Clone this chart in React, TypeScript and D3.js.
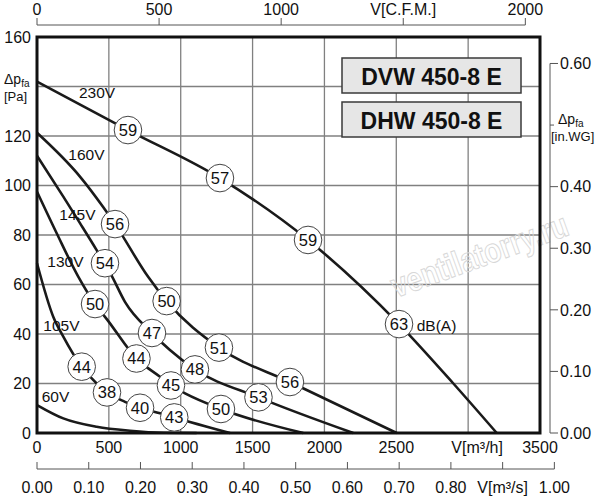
import React from 'react';
import * as d3 from 'd3';

// ---- axis ticks & labels ----
const flowTicks = [0, 500, 1000, 1500, 2000, 2500, 3000, 3500];
const flowTickLabels = ['0', '500', '1000', '1500', '2000', '2500', 'V[m³/h]', '3500'];
const cfmTicks = [0, 500, 1000, 1500, 2000];
const cfmTickLabels = ['0', '500', '1000', 'V[C.F.M.]', '2000'];
const m3sTicks = [0, 0.1, 0.2, 0.3, 0.4, 0.5, 0.6, 0.7, 0.8, 0.9, 1.0];
const m3sTickLabels = ['0.00', '0.10', '0.20', '0.30', '0.40', '0.50', '0.60', '0.70', '0.80', 'V[m³/s]', '1.00'];
const paTicks = [0, 20, 40, 60, 80, 100, 120, 140, 160];
const paTickLabels = ['0', '20', '40', '60', '80', '100', '120', '', '160'];
const inwgTicks = [0, 0.1, 0.2, 0.3, 0.4, 0.5, 0.6];
const inwgTickLabels = ['0.00', '0.10', '0.20', '0.30', '0.40', '', '0.60'];

const titles = ['DVW 450-8 E', 'DHW 450-8 E'];

// ---- fan curves: [flow m³/h, pressure Pa] ----
const voltages = ['230V', '160V', '145V', '130V', '105V', '60V'];
const curve230: [number, number][] = [[0, 142], [633, 122.4], [1273, 103], [1886, 78], [2519, 44], [2894, 20.2], [3199, 0]];
const curve160: [number, number][] = [[0, 121.3], [299, 103.6], [459, 91.4], [543, 84.4], [772, 63.2], [902, 53.3], [1266, 34.5], [1760, 20.6], [2503, 0]];
const curve145: [number, number][] = [[0, 112], [183, 95.5], [299, 84.8], [415, 73.9], [520, 63.5], [612, 53], [800, 40.4], [925, 33.5], [1099, 25.7], [1541, 14.4], [2201, 0]];
const curve130: [number, number][] = [[0, 97.5], [137, 80.7], [287, 63.2], [404, 52.1], [496, 45.2], [692, 30.1], [856, 22.7], [932, 19.2], [1030, 16], [1280, 9.7], [1853, 0]];
const curve105: [number, number][] = [[0, 68.6], [113, 47], [183, 38.9], [311, 26.8], [381, 22.1], [487, 16.4], [612, 12.6], [717, 10.2], [856, 8], [955, 6.3], [1343, 0]];
const curve60: [number, number][] = [[0, 11.3], [183, 5.9], [415, 2.5], [647, 0.9], [879, 0.1], [1111, 0]];

// ---- noise markers: [flow, pressure, dB(A)] ----
const noise230: [number, number, string][] = [[633, 122.4, '59'], [1273, 103, '57'], [1886, 78, '59'], [2519, 44, '63']];
const noise160: [number, number, string][] = [[543, 84.4, '56'], [902, 53.3, '50'], [1266, 34.5, '51'], [1760, 20.6, '56']];
const noise145: [number, number, string][] = [[473, 68.6, '54'], [800, 40.4, '47'], [1099, 25.7, '48'], [1541, 14.4, '53']];
const noise130: [number, number, string][] = [[404, 52.1, '50'], [692, 30.1, '44'], [932, 19.2, '45'], [1280, 9.7, '50']];
const noise105: [number, number, string][] = [[311, 26.8, '44'], [487, 16.4, '38'], [717, 10.2, '40'], [955, 6.3, '43']];

// voltage label anchors (data units: flow, pressure)
const voltLabelFlow = [292, 218, 155, 72, 44, 33];
const voltLabelPa = [135.4, 110.3, 86.1, 67.1, 41.2, 12.7];
const dbaLabel = 'dB(A)';
const watermark = 'ventilatorry.ru';

const M3H_PER_CFM = 1.699;
const PA_PER_INWG = 248.84;
const M3H_PER_M3S = 3600;

const FONT = "'Liberation Sans', Arial, Helvetica, sans-serif";

export default function App() {
  const left = 37, right = 540, top = 37, bottom = 433;
  const x = d3.scaleLinear().domain([0, 3500]).range([left, right]);
  const y = d3.scaleLinear().domain([0, 160]).range([bottom, top]);
  const xc = (v: number) => x(v * M3H_PER_CFM);
  const xs = (v: number) => x(v * M3H_PER_M3S);
  const yr = (v: number) => y(v * PA_PER_INWG);

  const line = d3.line<[number, number]>().x(d => x(d[0])).y(d => y(d[1])).curve(d3.curveMonotoneX);
  const curves = [curve230, curve160, curve145, curve130, curve105, curve60];
  const markers = [noise230, noise160, noise145, noise130, noise105];

  const topAxisY = 25;
  const bottomAxisY = 469;
  const rightAxisX = 550;
  const gridColor = '#808080';

  return (
    <svg width={600} height={500} style={{ position: 'absolute', left: 0, top: 0, background: '#fff' }} fontFamily={FONT}>
      <rect x={0} y={0} width={600} height={500} fill="#fff" />
      {/* grid */}
      {flowTicks.slice(1, -1).map(t => (
        <line key={'gx' + t} x1={x(t)} x2={x(t)} y1={top} y2={bottom} stroke={gridColor} strokeWidth={1.3} />
      ))}
      {paTicks.slice(1, -1).map(t => (
        <line key={'gy' + t} x1={left} x2={right} y1={y(t)} y2={y(t)} stroke={gridColor} strokeWidth={1.3} />
      ))}

      {/* watermark */}
      <text transform="translate(396,298) rotate(-20)" fontSize={34} fontWeight="bold" fill="none" stroke="#d8d8d8" strokeWidth={1}
        textLength={186} lengthAdjust="spacingAndGlyphs">{watermark}</text>

      {/* title boxes */}
      {titles.map((t, i) => (
        <g key={t}>
          <rect x={342} y={58 + i * 44} width={179} height={35} fill="#e6e6e6" stroke="#3a3a3a" strokeWidth={1.5} />
          <text x={431.5} y={84.5 + i * 44} textAnchor="middle" fontSize={23} fontWeight="bold" fill="#111">{t}</text>
        </g>
      ))}

      {/* curves */}
      {curves.map((c, i) => (
        <path key={voltages[i]} d={line(c) || ''} fill="none" stroke="#1a1a1a" strokeWidth={2.6} />
      ))}

      {/* plot frame */}
      <rect x={left} y={top} width={right - left} height={bottom - top} fill="none" stroke="#111" strokeWidth={3} />

      {/* voltage labels */}
      {voltages.map((v, i) => (
        <text key={'vl' + v} x={x(voltLabelFlow[i])} y={y(voltLabelPa[i])} fontSize={15.5} fill="#111">{v}</text>
      ))}

      {/* noise markers */}
      {markers.map((ms, i) => ms.map((m, j) => (
        <g key={'m' + i + '-' + j}>
          <circle cx={x(m[0])} cy={y(m[1])} r={13.8} fill="#fff" stroke="#444" strokeWidth={1} />
          <text x={x(m[0])} y={y(m[1])} dy="0.36em" textAnchor="middle" fontSize={16.5} fill="#111">{m[2]}</text>
        </g>
      )))}
      <text x={x(2642)} y={y(41.2)} fontSize={15.5} fill="#111">{dbaLabel}</text>

      {/* left axis labels */}
      {paTicks.map((t, i) => paTickLabels[i] ? (
        <text key={'pl' + t} x={31} y={y(t)} dy="0.36em" textAnchor="end" fontSize={16} fill="#111">{paTickLabels[i]}</text>
      ) : null)}
      <text x={4} y={84} fontSize={14} fill="#111">Δp<tspan fontSize={10} dy={3}>fa</tspan></text>
      <text x={4} y={101} fontSize={13} fill="#111">[Pa]</text>

      {/* bottom m3/h labels */}
      {flowTicks.map((t, i) => (
        <text key={'fl' + t} x={i === 6 ? x(t) + 9 : x(t)} y={453} textAnchor="middle" fontSize={16} fill="#111">{flowTickLabels[i]}</text>
      ))}

      {/* top CFM axis */}
      <line x1={xc(0)} x2={xc(2000)} y1={topAxisY} y2={topAxisY} stroke="#555" strokeWidth={1} />
      {cfmTicks.map((t, i) => (
        <g key={'c' + t}>
          <line x1={xc(t)} x2={xc(t)} y1={topAxisY} y2={topAxisY - 7} stroke="#555" strokeWidth={1} />
          <text x={xc(t)} y={15} textAnchor="middle" fontSize={16} fill="#111">{cfmTickLabels[i]}</text>
        </g>
      ))}

      {/* bottom m3/s axis */}
      <line x1={xs(0)} x2={xs(1)} y1={bottomAxisY} y2={bottomAxisY} stroke="#555" strokeWidth={1} />
      {m3sTicks.map((t, i) => (
        <g key={'s' + i}>
          <line x1={xs(t)} x2={xs(t)} y1={bottomAxisY} y2={bottomAxisY - 7} stroke="#555" strokeWidth={1} />
          <text x={xs(t)} y={493} textAnchor="middle" fontSize={16} fill="#111">{m3sTickLabels[i]}</text>
        </g>
      ))}

      {/* right in.WG axis */}
      <line x1={rightAxisX} x2={rightAxisX} y1={yr(0.6)} y2={yr(0)} stroke="#555" strokeWidth={1} />
      {inwgTicks.map((t, i) => (
        <g key={'r' + i}>
          <line x1={rightAxisX} x2={rightAxisX + (inwgTickLabels[i] ? 8 : 4)} y1={yr(t)} y2={yr(t)} stroke="#555" strokeWidth={1} />
          {inwgTickLabels[i] ? (
            <text x={560} y={yr(t)} dy="0.36em" fontSize={16} fill="#111">{inwgTickLabels[i]}</text>
          ) : null}
        </g>
      ))}
      <text x={558} y={124} fontSize={14} fill="#111">Δp<tspan fontSize={10} dy={3}>fa</tspan></text>
      <text x={551} y={141} fontSize={13} fill="#111">[in.WG]</text>
    </svg>
  );
}
